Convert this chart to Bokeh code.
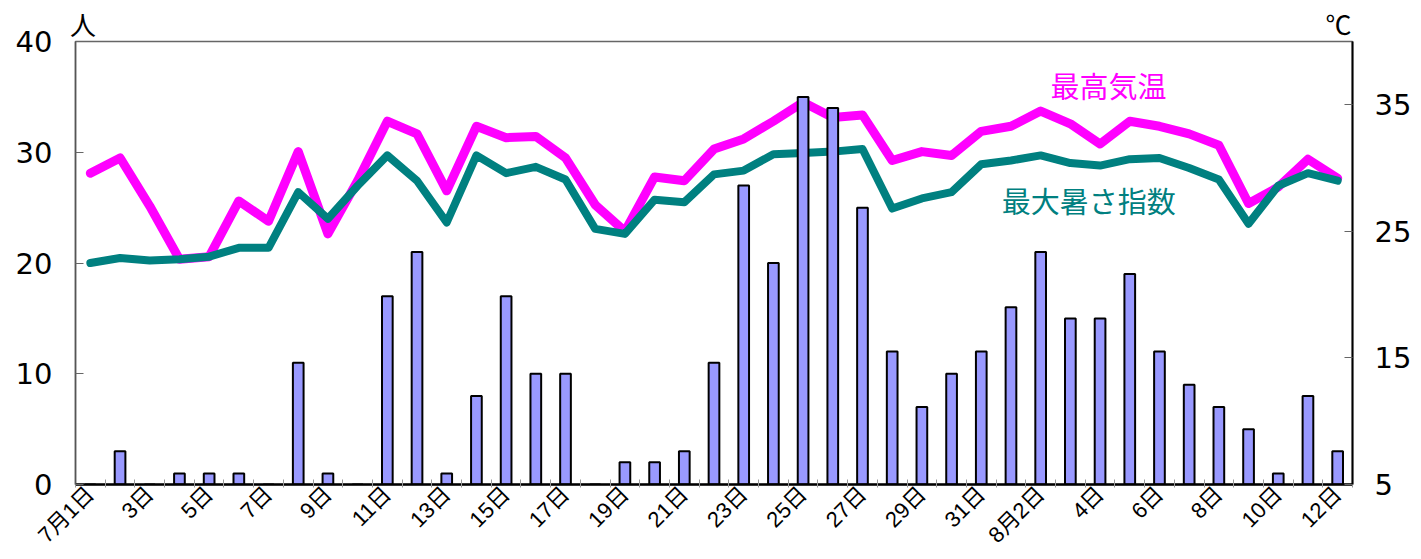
from math import pi
from bokeh.plotting import figure
from bokeh.models import Range1d, LinearAxis, FixedTicker, Label, ColumnDataSource
from bokeh.embed import file_html
from bokeh.resources import INLINE

# ---- data ----
days = list(range(1, 44))  # 7/1 .. 8/12
tick_days = list(range(1, 44, 2))
tick_labels = ["7月1日", "3日", "5日", "7日", "9日", "11日", "13日", "15日", "17日",
               "19日", "21日", "23日", "25日", "27日", "29日", "31日", "8月2日",
               "4日", "6日", "8日", "10日", "12日"]
patients = [0, 3, 0, 1, 1, 1, 0, 11, 1, 0, 17, 21, 1, 8, 17, 10, 10, 0, 2, 2, 3,
            11, 27, 20, 35, 34, 25, 12, 7, 10, 12, 16, 21, 15, 15, 19, 12, 9, 7,
            5, 1, 8, 3]
max_temp = [29.6, 30.8, 27.0, 22.8, 23.0, 27.4, 25.8, 31.3, 24.8, 29.0, 33.7,
            32.7, 28.2, 33.3, 32.4, 32.5, 30.8, 27.1, 25.0, 29.3, 29.0, 31.5,
            32.3, 33.7, 35.2, 34.0, 34.2, 30.6, 31.3, 31.0, 32.9, 33.3, 34.5,
            33.5, 31.9, 33.7, 33.3, 32.7, 31.8, 27.2, 28.5, 30.7, 29.2]
max_wbgt = [22.5, 22.9, 22.7, 22.8, 23.0, 23.7, 23.7, 28.1, 26.0, 28.6, 31.0,
            29.0, 25.7, 31.0, 29.6, 30.1, 29.1, 25.2, 24.8, 27.5, 27.3, 29.5,
            29.8, 31.1, 31.2, 31.3, 31.5, 26.8, 27.6, 28.1, 30.3, 30.6, 31.0,
            30.4, 30.2, 30.7, 30.8, 30.0, 29.1, 25.6, 28.6, 29.6, 29.0]
left_ticks = [0, 10, 20, 30, 40]
right_ticks = [5, 15, 25, 35]
unit_left = "人"
unit_right = "℃"

src = ColumnDataSource(dict(day=days, count=patients, tmax=max_temp, wbgt=max_wbgt))

p = figure(width=1421, height=559, x_range=Range1d(0.5, 43.5), y_range=Range1d(0, 40),
           output_backend="svg", toolbar_location=None,
           min_border_left=75, min_border_right=69, min_border_top=41, min_border_bottom=75)
p.extra_y_ranges = {"temp": Range1d(5, 40)}
p.xgrid.visible = False
p.ygrid.visible = False
p.outline_line_color = "#666666"
p.outline_line_width = 1.5
p.background_fill_color = "white"
p.border_fill_color = "white"

JP = "Noto Sans CJK JP"
NUM = "DejaVu Sans"
XLAB = "Liberation Sans, Noto Sans CJK JP"

# x axis (below)
xa = p.below[0]
xa.ticker = FixedTicker(ticks=tick_days, minor_ticks=[d + 0.5 for d in range(0, 44)])
xa.major_label_overrides = {d: lab for d, lab in zip(tick_days, tick_labels)}
xa.major_label_orientation = pi / 4
xa.major_tick_line_color = None
xa.major_tick_out = 0
xa.major_tick_in = 0
xa.minor_tick_in = 5
xa.minor_tick_out = 3
xa.minor_tick_line_color = "#999999"
xa.axis_line_color = "black"
xa.axis_line_width = 2.5
xa.major_label_text_font = XLAB
xa.major_label_text_font_size = "22px"
xa.major_label_text_color = "black"
xa.major_label_standoff = 3

# left axis
ya = p.left[0]
ya.ticker = FixedTicker(ticks=left_ticks)
ya.major_tick_in = 8
ya.major_tick_out = 0
ya.minor_tick_line_color = None
ya.major_tick_line_color = "#666666"
ya.axis_line_color = "#555555"
ya.axis_line_width = 1.5
ya.major_label_text_font = NUM
ya.major_label_text_font_size = "29px"
ya.major_label_text_color = "black"
ya.major_label_standoff = 23

# right axis
ra = LinearAxis(y_range_name="temp", ticker=FixedTicker(ticks=right_ticks))
ra.major_tick_in = 8
ra.major_tick_out = 0
ra.minor_tick_line_color = None
ra.major_tick_line_color = "#666666"
ra.axis_line_color = "black"
ra.axis_line_width = 2
ra.major_label_text_font = NUM
ra.major_label_text_font_size = "29px"
ra.major_label_text_color = "black"
ra.major_label_standoff = 22
p.add_layout(ra, "right")

# top "axis" carrying the unit marks
ua = LinearAxis(ticker=FixedTicker(ticks=[0.75, 43.03], minor_ticks=[]),
                major_label_overrides={0.75: unit_left, 43.03: unit_right})
ua.axis_line_color = None
ua.major_tick_line_color = None
ua.minor_tick_line_color = None
ua.major_tick_in = 0
ua.major_tick_out = 0
ua.major_label_text_font = JP
ua.major_label_text_font_size = "26px"
ua.major_label_text_color = "black"
ua.major_label_standoff = 0
p.add_layout(ua, "above")

# lines
p.line("day", "tmax", source=src, y_range_name="temp", line_color="#ff00ff",
       line_width=9, line_join="round", line_cap="round")
p.line("day", "wbgt", source=src, y_range_name="temp", line_color="#008080",
       line_width=8, line_join="round", line_cap="round")

# bars
p.vbar(x="day", top="count", source=src, width=0.36, fill_color="#9999ff",
       line_color="black", line_width=2)

# series labels
p.add_layout(Label(x=35.28, y=36.1, text="最高気温", text_font=JP, text_font_size="29px",
                   text_align="center", text_baseline="middle", text_color="#ff00ff"))
p.add_layout(Label(x=34.62, y=25.7, text="最大暑さ指数", text_font=JP, text_font_size="29px",
                   text_align="center", text_baseline="middle", text_color="#008080"))

open("out.html", "w").write(file_html(p, INLINE))
